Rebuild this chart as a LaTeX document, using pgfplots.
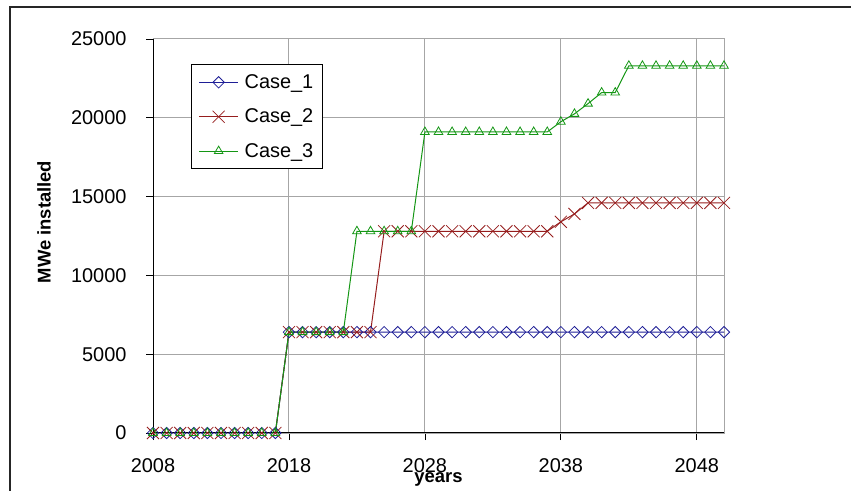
\documentclass[border=0pt]{standalone}
\usepackage{fontspec}
\setmainfont{Liberation Sans}
\usepackage{pgfplots}
\pgfplotsset{compat=1.18}

\definecolor{caseone}{RGB}{30,30,150}
\definecolor{casetwo}{RGB}{150,30,30}
\definecolor{casethree}{RGB}{20,150,20}

% years 2008..2050
\pgfplotstableread{
year c1    c2    c3
2008 0     0     0
2009 0     0     0
2010 0     0     0
2011 0     0     0
2012 0     0     0
2013 0     0     0
2014 0     0     0
2015 0     0     0
2016 0     0     0
2017 0     0     0
2018 6400  6400  6400
2019 6400  6400  6400
2020 6400  6400  6400
2021 6400  6400  6400
2022 6400  6400  6400
2023 6400  6400  12800
2024 6400  6400  12800
2025 6400  12800 12800
2026 6400  12800 12800
2027 6400  12800 12800
2028 6400  12800 19100
2029 6400  12800 19100
2030 6400  12800 19100
2031 6400  12800 19100
2032 6400  12800 19100
2033 6400  12800 19100
2034 6400  12800 19100
2035 6400  12800 19100
2036 6400  12800 19100
2037 6400  12800 19100
2038 6400  13400 19750
2039 6400  13900 20250
2040 6400  14600 20900
2041 6400  14600 21600
2042 6400  14600 21600
2043 6400  14600 23300
2044 6400  14600 23300
2045 6400  14600 23300
2046 6400  14600 23300
2047 6400  14600 23300
2048 6400  14600 23300
2049 6400  14600 23300
2050 6400  14600 23300
}\mwtable

\begin{document}
\begin{tikzpicture}
\useasboundingbox (0,0) rectangle (851bp,491bp);
\draw[line width=1.6bp, black!85] (10bp,-10bp) -- (10bp,484bp) -- (870bp,484bp);
\begin{axis}[
  at={(153bp,58bp)}, anchor=south west,
  scale only axis, width=571bp, height=394bp,
  xmin=2008, xmax=2050, ymin=0, ymax=25000,
  xtick={2008,2018,...,2048}, ytick={0,5000,...,25000},
  grid=major, major grid style={gray!70, line width=1bp},
  axis line style={gray!70, line width=1bp},
  tick align=outside, xtick pos=bottom, ytick pos=left,
  major tick length=7bp, tick style={black, line width=0.8bp},
  scaled y ticks=false,
  /pgf/number format/1000 sep={}, /pgf/number format/assume math mode=true,
  tick label style={font=\fontsize{20}{22}\selectfont},
  yticklabel style={xshift=-16bp},
  xticklabel style={yshift=-15bp},
  xlabel={years}, ylabel={MWe installed},
  every axis x label/.style={at={(axis description cs:0.5,-0.1244)}, anchor=base,
    font=\bfseries\fontsize{18.5}{21}\selectfont},
  every axis y label/.style={at={(axis description cs:-0.191,0.5355)}, anchor=center, rotate=90,
    font=\bfseries\fontsize{18.5}{21}\selectfont},
  legend cell align=left,
  legend style={at={(axis description cs:0.0666,0.9365)}, anchor=north west,
    draw=black, line width=1.2bp, font=\fontsize{20}{23}\selectfont,
    row sep=15bp, inner xsep=7bp, inner ysep=8bp,
    /tikz/every odd column/.append style={column sep=4bp}},
  legend image code/.code={\draw[mark repeat=2, mark phase=2, #1]
    plot coordinates {(0bp,0bp) (19.5bp,0bp) (39bp,0bp)};},
]
\addplot[caseone, line width=1bp, mark=square, mark size=4bp, mark options={solid, rotate=45, line width=0.8bp}]
  table[x=year, y=c1] {\mwtable};
\addlegendentry{Case\_1}
\addplot[casetwo, line width=1bp, mark=x, mark size=8.5bp, mark options={solid, line width=0.8bp}]
  table[x=year, y=c2] {\mwtable};
\addlegendentry{Case\_2}
\addplot[casethree, line width=1bp, mark=triangle, mark size=5bp, mark options={solid, line width=0.8bp}]
  table[x=year, y=c3] {\mwtable};
\addlegendentry{Case\_3}
\draw[black, line width=1.2bp] (rel axis cs:0,1) -- (rel axis cs:0,0) -- (rel axis cs:1,0);
\end{axis}
\end{tikzpicture}
\end{document}
